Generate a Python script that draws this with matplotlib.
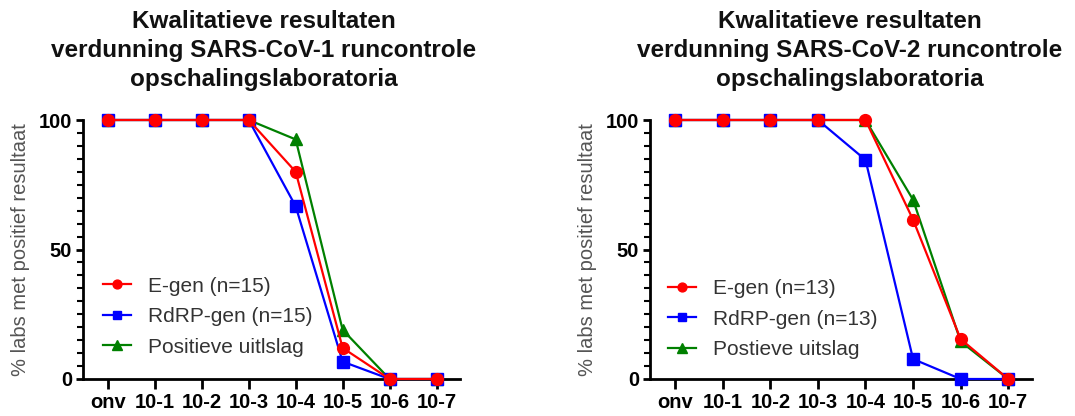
import matplotlib
matplotlib.use("Agg")
import matplotlib.pyplot as plt

plt.rcParams['font.family'] = ['Liberation Sans', 'DejaVu Sans']

categories = ["onv", "10-1", "10-2", "10-3", "10-4", "10-5", "10-6", "10-7"]

# SARS-CoV-1
cov1_egen = [100, 100, 100, 100, 80, 12, 0, 0]
cov1_rdrp = [100, 100, 100, 100, 66.7, 6.7, 0, 0]
cov1_pos = [100, 100, 100, 100, 92.5, 19, 0, 0]

# SARS-CoV-2
cov2_egen = [100, 100, 100, 100, 100, 61.5, 15.4, 0]
cov2_rdrp = [100, 100, 100, 100, 84.6, 7.7, 0, 0]
cov2_pos = [100, 100, 100, 100, 100, 69.2, 14.5, 0]

yticks_major = [0, 50, 100]
yticks_minor = list(range(0, 101, 5))

titles = ["Kwalitatieve resultaten\nverdunning SARS-CoV-1 runcontrole\nopschalingslaboratoria",
          "Kwalitatieve resultaten\nverdunning SARS-CoV-2 runcontrole\nopschalingslaboratoria"]
legend_labels = [["E-gen (n=15)", "RdRP-gen (n=15)", "Positieve uitlslag"],
                 ["E-gen (n=13)", "RdRP-gen (n=13)", "Postieve uitslag"]]
ylabel = "% labs met positief resultaat"

RED = "#ff0000"
BLUE = "#0000ff"
GREEN = "#008000"

fig = plt.figure(figsize=(10.75, 4.16), dpi=100)
positions = [[83/1075, 37/416, 377/1075, 259/416],
             [650/1075, 37/416, 382/1075, 259/416]]
data = [(cov1_egen, cov1_rdrp, cov1_pos), (cov2_egen, cov2_rdrp, cov2_pos)]
title_x = [264/1075, 850/1075]
legend_anchor = [(0.053, 0.395), (0.047, 0.385)]

for i in range(2):
    ax = fig.add_axes(positions[i])
    e, r, p = data[i]
    x = list(range(len(categories)))
    hp, = ax.plot(x, p, color=GREEN, marker="^", markersize=9, lw=1.6, clip_on=False, zorder=3)
    hr, = ax.plot(x, r, color=BLUE, marker="s", markersize=8, lw=1.6, clip_on=False, zorder=4)
    he, = ax.plot(x, e, color=RED, marker="o", markersize=8.5, lw=1.6, clip_on=False, zorder=5)
    ax.set_xlim(-0.53, 7.5)
    ax.set_ylim(0, 100)
    ax.set_yticks(yticks_major)
    ax.set_yticks([v for v in yticks_minor if v not in yticks_major], minor=True)
    ax.set_xticks(x)
    ax.set_xticklabels(categories)
    for s in ["top", "right"]:
        ax.spines[s].set_visible(False)
    for s in ["left", "bottom"]:
        ax.spines[s].set_linewidth(2)
    ax.tick_params(axis="x", which="major", width=2, length=7, labelsize=14.5, pad=3)
    ax.tick_params(axis="y", which="major", width=2, length=5, labelsize=14.5, pad=3)
    ax.tick_params(axis="y", which="minor", width=1.5, length=4, left=True, color="black")
    for lab in ax.get_xticklabels() + ax.get_yticklabels():
        lab.set_fontweight("bold")
    ax.set_ylabel(ylabel, fontsize=14.5, color="#555555", labelpad=6)
    leg = ax.legend([he, hr, hp], legend_labels[i], loc="upper left",
                    bbox_to_anchor=legend_anchor[i], borderaxespad=0, borderpad=0,
                    frameon=False, fontsize=15, markerscale=0.75,
                    handlelength=1.35, labelspacing=0.55, handletextpad=0.8)
    for t in leg.get_texts():
        t.set_color("#333333")
    fig.text(title_x[i], 1 - 10/416, titles[i], ha="center", va="top",
             fontsize=17.5, fontweight="bold", linespacing=1.32, color="#111111")

fig.savefig("out.png", dpi=100)
